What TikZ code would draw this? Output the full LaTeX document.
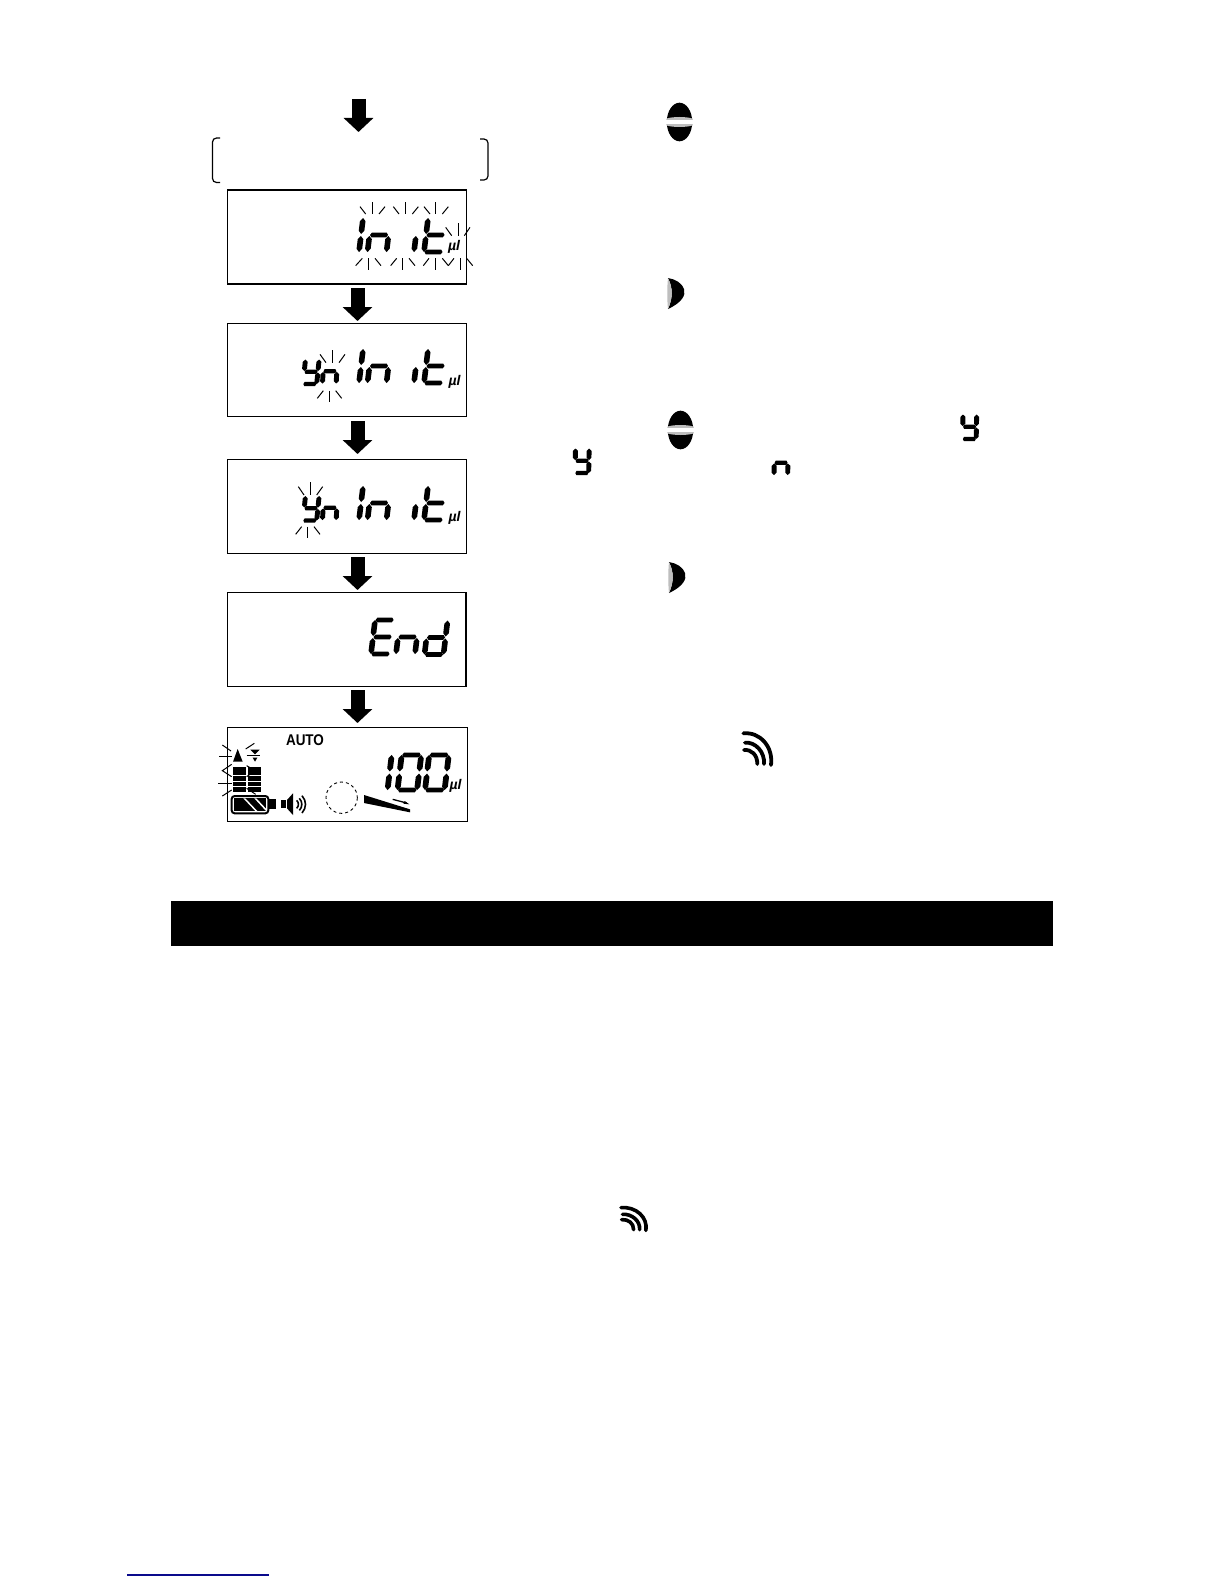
\documentclass[tikz,border=0pt]{standalone}
\usepackage{fontspec}
\setmainfont{Liberation Sans}
\usetikzlibrary{arrows.meta}
\definecolor{linkblue}{RGB}{10,10,140}
\definecolor{btngray}{RGB}{190,190,190}
\tikzset{
  lcdbox/.style={draw=black,line width=1.2pt,fill=white,inner sep=0pt,outer sep=0pt,minimum width=239.4pt},
  blockarrow/.style={line width=14pt,-{Triangle[length=14pt,width=29pt]},black},
  spark/.style={line width=1pt,black},
  munit/.style={inner sep=0pt,font=\fontsize{14}{14}\selectfont\bfseries\itshape},
  thinwave/.style={line width=1.6pt,black}
}
% seven-segment parts (origin: bottom-left, y=-34 is top)
\newcommand\hw{2.4}
\newcommand\vw{2.8}
\newcommand\bv{1.6}
\newcommand\lslant{0.12}
\newcommand\hsg[3]{\fill (#1,#3) -- (#1+\bv,#3-\hw) -- (#2-\bv,#3-\hw) -- (#2,#3) -- (#2-\bv,#3+\hw) -- (#1+\bv,#3+\hw) -- cycle;}
\newcommand\vsg[3]{\fill (#1,#2) -- (#1+\vw,#2+\bv+1.6) -- (#1+\vw,#3-\bv-1.6) -- (#1,#3) -- (#1-\vw,#3-\bv-1.6) -- (#1-\vw,#2+\bv+1.6) -- cycle;}
\newcommand\sga{\hsg{0.5}{18.5}{-34}}
\newcommand\sgb{\vsg{19}{-34}{-18}}
\newcommand\sgc{\vsg{19}{-16}{0}}
\newcommand\sgd{\hsg{0.5}{18.5}{0}}
\newcommand\sge{\vsg{0}{-16}{0}}
\newcommand\sgf{\vsg{0}{-34}{-18}}
\newcommand\sgg{\hsg{0.5}{18.5}{-17}}
\newcommand\lcd[4]{\begin{scope}[shift={(#1,#2)},scale=#3,xslant=\lslant]\foreach \s in {#4}{\csname sg\s\endcsname}\end{scope}}
% small glyphs: same outline, heavier relative stroke
\newcommand\lcdsmall[5]{{\renewcommand\hw{3.1}\renewcommand\vw{3.4}\renewcommand\lslant{#5}\lcd{#1}{#2}{#3}{#4}}}
\newcommand\ininit[1]{%
  \lcd{359}{#1}{1}{e,f}\lcd{367.5}{#1}{1}{e,g,c}\lcd{414}{#1}{1}{e}\lcd{424}{#1}{1}{f,e,g,d}}
\newcommand\ovalbtn[2]{\begin{scope}[shift={(#1,#2)}]
  \fill[black] (0,0) ellipse [x radius=12.7,y radius=19.3];
  \fill[btngray] (-13,-3.5) .. controls (-6,-5.5) and (6,-5.5) .. (13,-3.5) -- (13,3.5) .. controls (6,5.5) and (-6,5.5) .. (-13,3.5) -- cycle;
  \fill[white] (-14,-2) -- (14,-2) -- (14,2) -- (-14,2) -- cycle;
  \end{scope}}
\newcommand\moonbtn[2]{\begin{scope}[shift={(#1,#2)}]
  \fill[black] (0,0) .. controls (15,2) and (28,18) .. (0,31) .. controls (5,20) and (5,10) .. (0,0) -- cycle;
  \fill[btngray] (0,0) .. controls (-1,10) and (-1,21) .. (0,31) .. controls (5,20) and (5,10) .. (0,0) -- cycle;
  \end{scope}}
\newcommand\radioicon[5]{\begin{scope}[shift={(#1,#2)},xscale=#3,yscale=#4,line width=#5]
  \draw[black,line cap=round] (70,40) .. controls (120,35) and (160,80) .. (153,135);
  \draw[black,line cap=round] (75,68) .. controls (105,65) and (135,95) .. (132,132);
  \draw[black,line cap=round] (72,90) .. controls (95,88) and (112,105) .. (112,132);
  \end{scope}}
\begin{document}
\begin{tikzpicture}[x=1pt,y=-1pt]
\useasboundingbox (0,0) rectangle (1224,1584);
\fill[white] (0,0) rectangle (1224,1584);

% boxes
\node[lcdbox,minimum height=94pt] (box1) at (347,237) {};
\node[lcdbox,minimum height=93.4pt] (box2) at (347,370) {};
\node[lcdbox,minimum height=94pt] (box3) at (347,506.3) {};
\node[lcdbox,minimum height=94pt,minimum width=238.4pt] (box4) at (346.8,639.7) {};
\node[lcdbox,minimum height=94.4pt,minimum width=240.4pt] (box5) at (347.5,774.5) {};

% arrows
\coordinate (start) at (358.5,99);
\coordinate (startend) at (358.5,132);
\draw[blockarrow] (start) -- (startend);
\draw[blockarrow,shorten <=4pt,shorten >=2.3pt] ([xshift=10.5pt]box1.south) -- ([xshift=10.5pt]box2.north);
\draw[blockarrow,shorten <=4.3pt,shorten >=5.3pt] ([xshift=10.5pt]box2.south) -- ([xshift=10.5pt]box3.north);
\draw[blockarrow,shorten <=3.7pt,shorten >=2.7pt] ([xshift=10.5pt]box3.south) -- ([xshift=10.7pt]box4.north);
\draw[blockarrow,shorten <=3.3pt,shorten >=4.3pt] ([xshift=10.7pt]box4.south) -- ([xshift=10pt]box5.north);

% brackets
\draw[line width=1.2pt,rounded corners=4pt] (220,138) -- (212.5,138) -- (212.5,182.5) -- (220,182.5);
\draw[line width=1.2pt,rounded corners=4pt] (480,139) -- (488,139) -- (488,180) -- (480,180);

% LCD readings
\ininit{252}
\ininit{383}
\ininit{520}
\lcdsmall{303}{384}{0.72}{f,b,g,c,d}{0.1}\lcdsmall{322.5}{383.5}{0.72}{e,g,c}{0.05}
\lcdsmall{303}{520.5}{0.72}{f,b,g,c,d}{0.1}\lcdsmall{322.5}{520}{0.72}{e,g,c}{0.05}
\lcd{371}{654}{1}{a,f,g,e,d}\lcd{396}{654}{1}{e,g,c}\lcd{424.5}{654.5}{1}{b,c,g,e,d}
\lcd{387.5}{790}{1.03}{e,f}\lcd{397.5}{790}{1.03}{a,b,c,d,e,f}\lcd{425}{790}{1.03}{a,b,c,d,e,f}

\node[munit] (ul1) at (454,247) {µl};
\node[munit] (ul2) at (454.5,381.5) {µl};
\node[munit] (ul3) at (454.5,517.5) {µl};
\node[munit] (ul5) at (455.5,786) {µl};

% sparks, box 1
\begin{scope}[shift={(200,90)},scale=1/3,spark]
\foreach \a/\b/\c/\d in {480/350/497/372,517/337/517/372,555/350/537/372,580/350/597/372,617/337/617/372,655/350/637/372,672/350/690/372,707/337/707/372,745/350/727/372,737/412/755/437,775/400/775/437,810/412/793/437,487/505/467/527,505/505/505/540,525/505/543/527,590/505/572/527,607/505/607/540,627/505/645/527,687/505/670/527,707/505/707/540,727/505/745/527,762/505/745/527,780/505/780/540,800/505/818/527}
  \draw (\a,\b) -- (\c,\d);
\end{scope}
% sparks, boxes 2 and 3
\begin{scope}[shift={(220,320)},scale=1/3,spark]
\foreach \a/\b/\c/\d in {300/103/318/128,337/90/337/128,375/103/357/128,310/212/292/235,328/212/328/247,347/212/365/235,235/500/252/525,272/487/272/525,308/500/290/525,245/620/227/643,263/620/263/655,282/620/300/643}
  \draw (\a,\b) -- (\c,\d);
\end{scope}

% box 5 symbols
\node[inner sep=0pt,font=\fontsize{15.5}{15.5}\selectfont\bfseries] (auto) at (305,740) {\scalebox{0.87}[1]{AUTO}};
\begin{scope}[shift={(215,735)},scale=1/3]
  \fill (54,80) -- (83,80) -- (68,42) -- cycle;
  \fill (106,44) -- (134,44) -- (120,58) -- cycle;
  \draw[line width=1pt] (95,62) -- (135,62);
  \fill (113,68) -- (127,68) -- (120,80) -- cycle;
  \begin{scope}[spark]
  \draw (22,30) -- (48,48);
  \draw (92,42) -- (118,25);
  \draw (12,64) -- (50,64);
  \draw (50,88) -- (22,107) -- (50,125);
  \draw (95,92) -- (120,107) -- (95,125);
  \draw (10,145) -- (50,145);
  \draw (22,183) -- (50,165);
  \draw (95,160) -- (122,178);
  \end{scope}
  \foreach \t/\u in {96/120,122.5/138,140.5/154,156.5/170}{
    \fill (53,\t) rectangle (92,\u);
    \fill (100,\t) rectangle (138,\u);
  }
  % battery
  \draw[line width=2pt,rounded corners=3pt] (50,183) rectangle (160,235);
  \fill (57,190) rectangle (154,228);
  \fill[white] (85,190) -- (91,190) -- (127,228) -- (121,228) -- cycle;
  \fill[white] (118,190) -- (124,190) -- (154,222) -- (154,228) -- (153,228) -- cycle;
  \fill (162,193) rectangle (183,222);
  % speaker
  \fill (198,195) rectangle (213,220);
  \fill (216,195) -- (234,175) -- (234,240) -- (216,220) -- cycle;
  \draw[thinwave] (245,196) .. controls (252,203) and (252,213) .. (245,220);
  \draw[thinwave] (253,190) .. controls (263,200) and (263,216) .. (253,226);
  \draw[thinwave] (261,182) .. controls (275,198) and (275,218) .. (261,234);
\end{scope}
\begin{scope}[shift={(320,745)},scale=1/3]
  \draw[line width=0.9pt,dash pattern=on 3pt off 3pt] (65,158) circle (47);
  \fill (132,150) -- (270,193) -- (270,202) -- (132,174) -- cycle;
  \draw[line width=1.3pt] (218,163) -- (260,174);
  \fill (268,178) -- (250,176) -- (254,168) -- cycle;
\end{scope}

% side symbols
\ovalbtn{679.5}{122}
\moonbtn{668}{278}
\ovalbtn{680.5}{430}
\moonbtn{669}{562}
\lcdsmall{962.5}{439}{0.72}{f,b,g,c,d}{0.02}
\lcdsmall{575}{473}{0.72}{f,b,g,c,d}{0.02}
\lcdsmall{774}{475}{0.72}{e,g,c}{0.02}
\radioicon{720}{720}{1/3}{1/3}{3.8pt}
\radioicon{600}{1198}{0.3}{0.24}{3.6pt}

% bar and link line
\node[fill=black,inner sep=0pt,outer sep=0pt,minimum width=882.4pt,minimum height=45pt] (bar) at (612.2,923.5) {};
\coordinate (linkA) at (127,1575);
\coordinate (linkB) at (269,1575);
\draw[linkblue,line width=1.3pt] (linkA) -- (linkB);
\end{tikzpicture}
\end{document}
